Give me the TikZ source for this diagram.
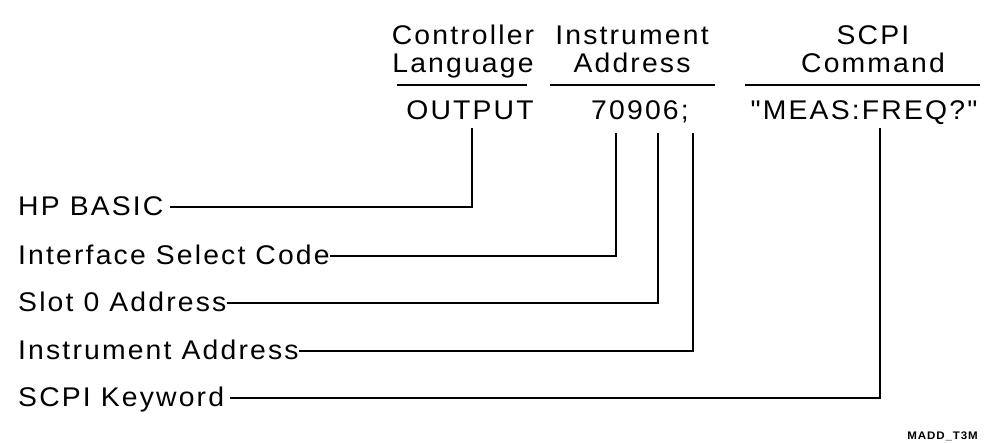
\documentclass[tikz,border=0pt]{standalone}
\usepackage{fontspec}
\setmainfont{Liberation Sans}[Ligatures=TeXOff, FakeStretch=1.05, LetterSpace=8]
\begin{document}
\begin{tikzpicture}[x=1pt,y=-1pt,
  txt/.style={font=\fontsize{27}{28}\selectfont, inner sep=0pt},
  lbl/.style={txt, anchor=base west},
  hdr/.style={txt, align=center, anchor=base},
  val/.style={txt, anchor=base},
  wire/.style={line width=2.2pt, line join=miter},
  rule/.style={line width=2.6pt}]
\useasboundingbox (0,0) rectangle (989,443);
% headings (base = last line's baseline)
\node[hdr] (h1) at (463,73) {Controller\\Language};
\node[hdr] (h2) at (632,73) {Instrument\\Address};
\node[hdr] (h3) at (873,73) {SCPI\\Command};
\draw[rule] (397,85) -- (527,85);
\draw[rule] (550,85) -- (715,85);
\draw[rule] (745,85) -- (980,85);
% values
\node[val] (v1) at (470,120) {OUTPUT};
\node[val] (v2) at (640,120) {70906;};
\node[val] (v3) at (864,120) {"MEAS:FREQ?"};
% top points
\coordinate (t1) at (472,128);
\coordinate (t2) at (616,133);
\coordinate (t3) at (658,133);
\coordinate (t4) at (693,133);
\coordinate (t5) at (880,128);
% labels
\node[lbl] (l1) at (18,216) {HP BASIC};
\node[lbl] (l2) at (18,265) {Interface Select Code};
\node[lbl] (l3) at (18,312) {Slot 0 Address};
\node[lbl] (l4) at (18,360) {Instrument Address};
\node[lbl] (l5) at (18,407) {SCPI Keyword};
% connectors
\draw[wire] ([xshift=6pt,yshift=9pt]l1.base east) -| (t1);
\draw[wire] ([xshift=0pt,yshift=9pt]l2.base east) -| (t2);
\draw[wire] ([xshift=0pt,yshift=9pt]l3.base east) -| (t3);
\draw[wire] ([xshift=0pt,yshift=9pt]l4.base east) -| (t4);
\draw[wire] ([xshift=6pt,yshift=9pt]l5.base east) -| (t5);
\node[font=\fontsize{11}{12}\selectfont\bfseries, inner sep=0pt, anchor=base east] (tag) at (978,440) {MADD\_T3M};
\end{tikzpicture}
\end{document}
